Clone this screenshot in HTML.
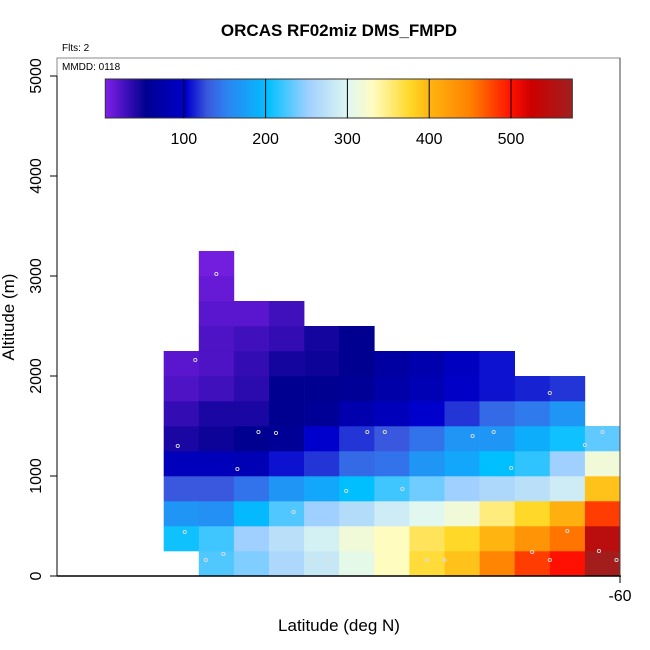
<!DOCTYPE html>
<html><head><meta charset="utf-8"><style>
html,body{margin:0;padding:0;background:#fff;}
svg{display:block;font-family:"Liberation Sans",sans-serif;}
</style></head><body>
<svg id="chart" width="650" height="650">
<text x="339" y="36" text-anchor="middle" font-size="17" font-weight="bold">ORCAS RF02miz DMS_FMPD</text>
<text x="62" y="51" font-size="10">Flts: 2</text>
<g id="cells"></g>
<g id="pts"></g>
<rect x="57" y="58" width="563" height="518" fill="none" stroke="#888" stroke-width="1"/>
<line x1="57" y1="576" x2="621" y2="576" stroke="#000" stroke-width="1.5"/>
<line x1="620" y1="58" x2="620" y2="577" stroke="#444" stroke-width="1"/>
<text x="62" y="70" font-size="10">MMDD: 0118</text>
<g id="yaxis"></g>
<g id="xaxis"></g>
<g id="cbar"></g>
<text x="339" y="631" text-anchor="middle" font-size="17">Latitude (deg N)</text>
<text transform="translate(14,317) rotate(-90)" text-anchor="middle" font-size="17">Altitude (m)</text>
</svg>
<script>
// Data: each column lists values bottom-to-top starting at startRow (250 m bins)
const colStart = [1,0,0,0,0,0,0,0,0,0,0,0,0];
const col0 = [205,165,125,85,40,30,20,15];
const col1 = [225,220,160,125,85,45,40,25,20,20,15,10,5];
const col2 = [240,250,195,140,80,50,40,33,30,25,15];
const col3 = [260,270,225,165,105,55,50,50,42,30,25];
const col4 = [280,290,250,180,115,100,55,50,45,42];
const col5 = [305,315,265,200,135,115,75,55,50,50];
const col6 = [330,330,285,220,140,125,85,70,65];
const col7 = [370,360,300,235,165,140,100,80,75];
const col8 = [390,375,315,250,180,165,115,95,90];
const col9 = [445,400,350,260,200,165,135,105,105];
const col10 = [480,430,375,270,215,185,145,110];
const col11 = [500,455,405,285,250,205,165,115];
const col12 = [570,545,480,390,315,230];
const columns = [col0,col1,col2,col3,col4,col5,col6,col7,col8,col9,col10,col11,col12];
const colLat = [-72.5,-71.5,-70.5,-69.5,-68.5,-67.5,-66.5,-65.5,-64.5,-63.5,-62.5,-61.5,-60.5];
const ptLat = [-71.5,-72.1,-72.6,-70.3,-69.8,-70.9,-72.4,-69.3,-67.8,-67.2,-66.7,-66.2,-64.2,-63.6,-63.1,-62.0,-60.5,-61.0,-71.8,-71.3,-68.8,-68.3,-65.5,-65.0,-62.5,-61.5,-62.0,-60.6,-60.1];
const ptAlt = [3020,2160,1300,1440,1430,1070,440,640,850,1440,1440,870,1400,1440,1080,1830,1440,1310,160,220,160,160,160,160,240,450,160,250,160];
const yTicks = [0,1000,2000,3000,4000,5000];
const xTicks = [-60];
const cbTicks = [100,200,300,400,500];
const binSize = 250;

const NS='http://www.w3.org/2000/svg';
const X = lat => 620 + (lat + 60) * 35.1;
const Y = alt => 576 - alt * 0.1;
const CB = v => 102 + v * 0.818;
const stops = [[0,[128,32,232]],[50,[0,0,144]],[100,[0,0,205]],[125,[58,88,221]],[150,[44,132,242]],[200,[0,191,255]],[250,[160,208,255]],[300,[224,248,240]],[330,[255,252,192]],[375,[255,216,40]],[400,[255,180,16]],[450,[255,128,0]],[500,[255,16,0]],[525,[204,0,0]],[575,[160,32,32]]];
function cmap(v){
  for(let i=1;i<stops.length;i++){
    if(v<=stops[i][0]){const a=stops[i-1],b=stops[i];const t=(v-a[0])/(b[0]-a[0]);
      return 'rgb('+a[1].map((c,k)=>Math.round(c+(b[1][k]-c)*t)).join(',')+')';}
  }
  return 'rgb(160,32,32)';
}
function mk(tag,attrs,parent){const e=document.createElementNS(NS,tag);for(const k in attrs)e.setAttribute(k,attrs[k]);parent.appendChild(e);return e;}

const cells=document.getElementById('cells');
columns.forEach((col,ci)=>{
  col.forEach((v,ri)=>{
    const r=colStart[ci]+ri;
    const x0=X(colLat[ci]-0.5), x1=X(colLat[ci]+0.5);
    const y0=Y((r+1)*binSize), y1=Y(r*binSize);
    const el=mk('rect',{x:x0,y:y0,width:x1-x0+0.3,height:y1-y0+0.3,fill:cmap(v)},cells);
    
    
  });
});
const pts=document.getElementById('pts');
ptLat.forEach((la,i)=>{
  const el=mk('circle',{cx:X(la),cy:Y(ptAlt[i]),r:1.6,fill:'none',stroke:'#ddd','stroke-width':0.9},pts);
  
  
});
const ya=document.getElementById('yaxis');
mk('line',{x1:57,y1:Y(0),x2:57,y2:Y(5000),stroke:'#000'},ya);
yTicks.forEach(t=>{
  const l=mk('line',{x1:50,y1:Y(t),x2:57,y2:Y(t),stroke:'#000'},ya);
  
  
  const tx=mk('text',{transform:`translate(41,${Y(t)}) rotate(-90)`,'text-anchor':'middle','font-size':16},ya);
  tx.textContent=t;
  
  
});
const xa=document.getElementById('xaxis');
xTicks.forEach(t=>{
  const l=mk('line',{x1:X(t),y1:576,x2:X(t),y2:583,stroke:'#000'},xa);
  
  
  const tx=mk('text',{x:X(t),y:601,'text-anchor':'middle','font-size':16},xa);
  tx.textContent=t;
  
  
});
const cb=document.getElementById('cbar');
const defs=mk('defs',{},cb);
const lg=mk('linearGradient',{id:'cg',x1:CB(4),x2:CB(575),y1:0,y2:0,gradientUnits:'userSpaceOnUse'},defs);
stops.forEach(s=>{mk('stop',{offset:(s[0]/575),'stop-color':cmap(s[0])},lg);});
mk('rect',{x:CB(4),y:79,width:CB(575)-CB(4),height:39,fill:'url(#cg)',stroke:'#333','stroke-width':1},cb);
cbTicks.forEach(t=>{
  const l=mk('line',{x1:CB(t),y1:79,x2:CB(t),y2:118,stroke:'#000'},cb);
  
  
  const tx=mk('text',{x:CB(t),y:144,'text-anchor':'middle','font-size':16},cb);
  tx.textContent=t;
  
  
});
</script>
</body></html>
